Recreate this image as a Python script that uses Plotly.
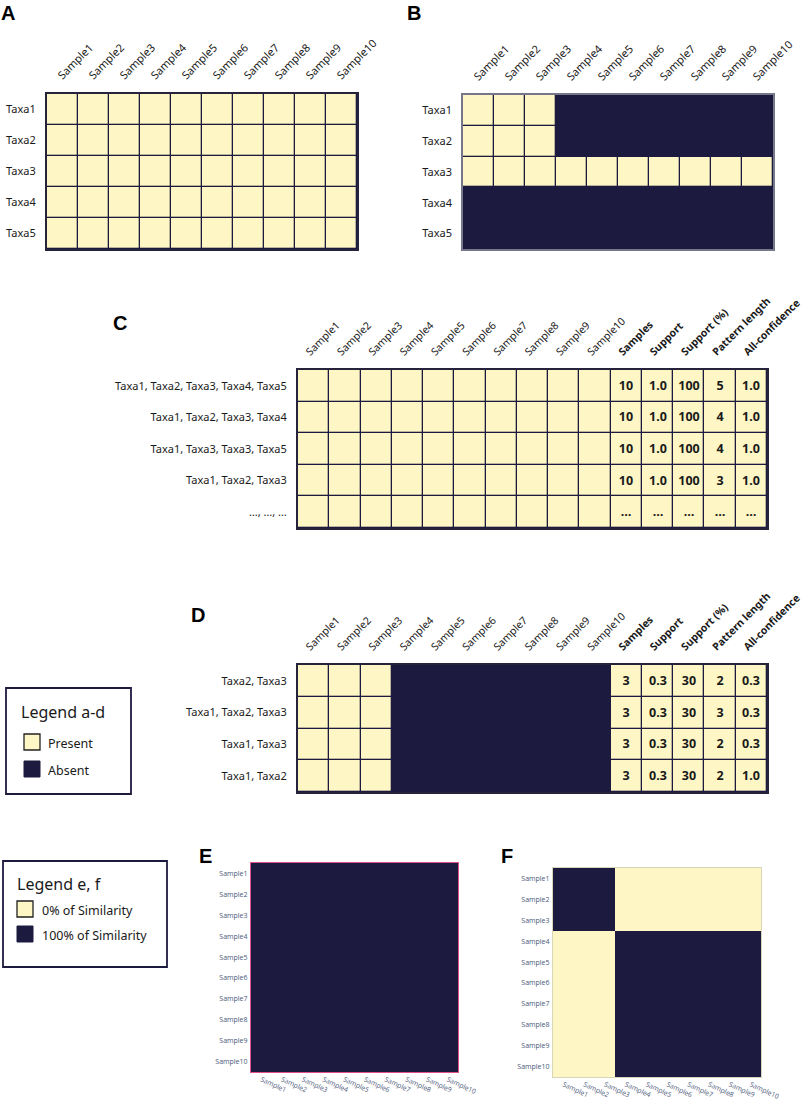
import plotly.graph_objects as go

# ---------------- data ----------------
samples = ["Sample1", "Sample2", "Sample3", "Sample4", "Sample5",
           "Sample6", "Sample7", "Sample8", "Sample9", "Sample10"]
taxa = ["Taxa1", "Taxa2", "Taxa3", "Taxa4", "Taxa5"]
stat_headers = ["Samples", "Support", "Support (%)", "Pattern length", "All-confidence"]

# 1 = present, 0 = absent
presence_a = [
    [1, 1, 1, 1, 1, 1, 1, 1, 1, 1],
    [1, 1, 1, 1, 1, 1, 1, 1, 1, 1],
    [1, 1, 1, 1, 1, 1, 1, 1, 1, 1],
    [1, 1, 1, 1, 1, 1, 1, 1, 1, 1],
    [1, 1, 1, 1, 1, 1, 1, 1, 1, 1],
]
presence_b = [
    [1, 1, 1, 0, 0, 0, 0, 0, 0, 0],
    [1, 1, 1, 0, 0, 0, 0, 0, 0, 0],
    [1, 1, 1, 1, 1, 1, 1, 1, 1, 1],
    [0, 0, 0, 0, 0, 0, 0, 0, 0, 0],
    [0, 0, 0, 0, 0, 0, 0, 0, 0, 0],
]

patterns_c = ["Taxa1, Taxa2, Taxa3, Taxa4, Taxa5", "Taxa1, Taxa2, Taxa3, Taxa4",
              "Taxa1, Taxa3, Taxa3, Taxa5", "Taxa1, Taxa2, Taxa3", "…, …, …"]
presence_c = [
    [1, 1, 1, 1, 1, 1, 1, 1, 1, 1],
    [1, 1, 1, 1, 1, 1, 1, 1, 1, 1],
    [1, 1, 1, 1, 1, 1, 1, 1, 1, 1],
    [1, 1, 1, 1, 1, 1, 1, 1, 1, 1],
    [1, 1, 1, 1, 1, 1, 1, 1, 1, 1],
]
samples_c = ["10", "10", "10", "10", "…"]
support_c = ["1.0", "1.0", "1.0", "1.0", "…"]
support_pct_c = ["100", "100", "100", "100", "…"]
pattern_len_c = ["5", "4", "4", "3", "…"]
all_conf_c = ["1.0", "1.0", "1.0", "1.0", "…"]

patterns_d = ["Taxa2, Taxa3", "Taxa1, Taxa2, Taxa3", "Taxa1, Taxa3", "Taxa1, Taxa2"]
presence_d = [
    [1, 1, 1, 0, 0, 0, 0, 0, 0, 0],
    [1, 1, 1, 0, 0, 0, 0, 0, 0, 0],
    [1, 1, 1, 0, 0, 0, 0, 0, 0, 0],
    [1, 1, 1, 0, 0, 0, 0, 0, 0, 0],
]
samples_d = ["3", "3", "3", "3"]
support_d = ["0.3", "0.3", "0.3", "0.3"]
support_pct_d = ["30", "30", "30", "30"]
pattern_len_d = ["2", "3", "2", "2"]
all_conf_d = ["0.3", "0.3", "0.3", "1.0"]

# similarity (1 = 100 %, 0 = 0 %)
similarity_e = [
    [1, 1, 1, 1, 1, 1, 1, 1, 1, 1],
    [1, 1, 1, 1, 1, 1, 1, 1, 1, 1],
    [1, 1, 1, 1, 1, 1, 1, 1, 1, 1],
    [1, 1, 1, 1, 1, 1, 1, 1, 1, 1],
    [1, 1, 1, 1, 1, 1, 1, 1, 1, 1],
    [1, 1, 1, 1, 1, 1, 1, 1, 1, 1],
    [1, 1, 1, 1, 1, 1, 1, 1, 1, 1],
    [1, 1, 1, 1, 1, 1, 1, 1, 1, 1],
    [1, 1, 1, 1, 1, 1, 1, 1, 1, 1],
    [1, 1, 1, 1, 1, 1, 1, 1, 1, 1],
]
similarity_f = [
    [1, 1, 1, 0, 0, 0, 0, 0, 0, 0],
    [1, 1, 1, 0, 0, 0, 0, 0, 0, 0],
    [1, 1, 1, 0, 0, 0, 0, 0, 0, 0],
    [0, 0, 0, 1, 1, 1, 1, 1, 1, 1],
    [0, 0, 0, 1, 1, 1, 1, 1, 1, 1],
    [0, 0, 0, 1, 1, 1, 1, 1, 1, 1],
    [0, 0, 0, 1, 1, 1, 1, 1, 1, 1],
    [0, 0, 0, 1, 1, 1, 1, 1, 1, 1],
    [0, 0, 0, 1, 1, 1, 1, 1, 1, 1],
    [0, 0, 0, 1, 1, 1, 1, 1, 1, 1],
]

# ---------------- style ----------------
W, H = 809, 1100
YELLOW = "#fef6c4"
NAVY = "#1d1a3f"
TXT = "#1a1a1a"
FONT = "Noto Sans"
presence_scale = [[0, NAVY], [1, YELLOW]]
similarity_scale = [[0, YELLOW], [1, NAVY]]


def fx(p):
    return p / W


def fy(p):
    return 1 - p / H


def table_rows(presence, stats):
    z, text = [], []
    for i, row in enumerate(presence):
        z.append(list(row) + [1] * len(stats))
        text.append([""] * len(row) + [s[i] for s in stats])
    return z, text


fig = go.Figure()

# A
fig.add_trace(go.Heatmap(z=presence_a, x=samples, y=taxa, colorscale=presence_scale,
                         zmin=0, zmax=1, showscale=False, xgap=1.3, ygap=1.3,
                         xaxis="x", yaxis="y", hoverinfo="skip"))
# B
fig.add_trace(go.Heatmap(z=presence_b, x=samples, y=taxa, colorscale=presence_scale,
                         zmin=0, zmax=1, showscale=False, xgap=1.3, ygap=1.3,
                         xaxis="x2", yaxis="y2", hoverinfo="skip"))
# C
zc, tc = table_rows(presence_c, [samples_c, support_c, support_pct_c, pattern_len_c, all_conf_c])
fig.add_trace(go.Heatmap(z=zc, x=samples + stat_headers, y=patterns_c, text=tc,
                         texttemplate="%{text}",
                         textfont=dict(family=FONT, size=12.5, color=TXT, weight="bold"),
                         colorscale=presence_scale, zmin=0, zmax=1, showscale=False,
                         xgap=1.3, ygap=1.3, xaxis="x3", yaxis="y3", hoverinfo="skip"))
# D
zd, td = table_rows(presence_d, [samples_d, support_d, support_pct_d, pattern_len_d, all_conf_d])
fig.add_trace(go.Heatmap(z=zd, x=samples + stat_headers, y=patterns_d, text=td,
                         texttemplate="%{text}",
                         textfont=dict(family=FONT, size=12.5, color=TXT, weight="bold"),
                         colorscale=presence_scale, zmin=0, zmax=1, showscale=False,
                         xgap=1.3, ygap=1.3, xaxis="x4", yaxis="y4", hoverinfo="skip"))
# E
fig.add_trace(go.Heatmap(z=similarity_e, x=samples, y=samples, colorscale=similarity_scale,
                         zmin=0, zmax=1, showscale=False, xaxis="x5", yaxis="y5",
                         hoverinfo="skip"))
# F
fig.add_trace(go.Heatmap(z=similarity_f, x=samples, y=samples, colorscale=similarity_scale,
                         zmin=0, zmax=1, showscale=False, xaxis="x6", yaxis="y6",
                         hoverinfo="skip"))

tick_font = dict(family=FONT, size=11, color=TXT)
head_font = dict(family=FONT, size=10.5, color=TXT)
small_font = dict(family="Open Sans", size=7, color="#4a5878")
small_font_x = dict(family="Open Sans", size=6.8, color="#4a5878")


def top_x(dom, anchor, color, width, font, shift, tickvals=None, ticktext=None):
    d = dict(domain=[fx(dom[0]), fx(dom[1])], anchor=anchor, side="top", tickangle=-45,
             showgrid=False, zeroline=False, ticks="", tickfont=font,
             showline=True, mirror=True, linecolor=color, linewidth=width,
             fixedrange=True, ticklabelstandoff=6, ticklabelshift=shift,
             automargin=False)
    if tickvals is not None:
        d["tickvals"] = tickvals
        d["ticktext"] = ticktext
    return d


def left_y(dom, anchor, color, width):
    return dict(domain=[fy(dom[1]), fy(dom[0])], anchor=anchor, autorange="reversed",
                showgrid=False, zeroline=False, ticks="", tickfont=tick_font,
                showline=True, mirror=True, linecolor=color, linewidth=width,
                fixedrange=True, ticklabelstandoff=7, automargin=False)


def sim_x(dom, anchor, color):
    return dict(domain=[fx(dom[0]), fx(dom[1])], anchor=anchor, tickangle=25,
                showgrid=False, zeroline=False, ticks="", tickfont=small_font_x,
                showline=True, mirror=True, linecolor=color, linewidth=1.2,
                fixedrange=True, ticklabelstandoff=0, automargin=False)


def sim_y(dom, anchor, color):
    return dict(domain=[fy(dom[1]), fy(dom[0])], anchor=anchor, autorange="reversed",
                showgrid=False, zeroline=False, ticks="", tickfont=small_font,
                showline=True, mirror=True, linecolor=color, linewidth=1.2,
                fixedrange=True, ticklabelstandoff=1, automargin=False)


table_ticktext = samples + ["<b>" + h + "</b>" for h in stat_headers]
table_tickvals = samples + stat_headers

BORDER = "#26243a"
fig.update_layout(
    width=W, height=H, autosize=False,
    margin=dict(l=0, r=0, t=0, b=0, autoexpand=False),
    paper_bgcolor="white", plot_bgcolor=NAVY,
    font=dict(family=FONT, color=TXT),
    xaxis=top_x((47, 357), "y", BORDER, 2, tick_font, -4),
    yaxis=left_y((94, 249), "x", BORDER, 2),
    xaxis2=top_x((463, 773), "y2", "#77778a", 1.5, tick_font, -4),
    yaxis2=left_y((95, 249), "x2", "#77778a", 1.5),
    xaxis3=top_x((298, 767), "y3", BORDER, 2, head_font, -7, table_tickvals, table_ticktext),
    yaxis3=left_y((370, 528), "x3", BORDER, 2),
    xaxis4=top_x((298, 767), "y4", BORDER, 2, head_font, -7, table_tickvals, table_ticktext),
    yaxis4=left_y((665, 792), "x4", BORDER, 2),
    xaxis5=sim_x((251, 458), "y5", "#e0508a"),
    yaxis5=sim_y((863, 1072), "x5", "#e0508a"),
    xaxis6=sim_x((553, 761), "y6", "#d8d6b8"),
    yaxis6=sim_y((868, 1077), "x6", "#d8d6b8"),
    showlegend=False,
)

# panel letters
letters = [("A", 0, 1), ("B", 406, 1), ("C", 112, 311), ("D", 190, 603),
           ("E", 198, 844), ("F", 500, 844)]
for t, x, y in letters:
    fig.add_annotation(text="<b>" + t + "</b>", x=fx(x), y=fy(y), xref="paper", yref="paper",
                       xanchor="left", yanchor="top", showarrow=False, borderpad=0,
                       font=dict(family="Liberation Sans", size=20, color="black"))

# legend boxes
shapes = []
shapes.append(dict(type="rect", xref="paper", yref="paper", x0=fx(6), x1=fx(131),
                   y0=fy(794), y1=fy(688), line=dict(color=NAVY, width=1.8),
                   fillcolor="white", layer="below"))
shapes.append(dict(type="rect", xref="paper", yref="paper", x0=fx(24), x1=fx(40),
                   y0=fy(750), y1=fy(734), line=dict(color="#222222", width=1.3),
                   fillcolor=YELLOW))
shapes.append(dict(type="rect", xref="paper", yref="paper", x0=fx(24), x1=fx(40),
                   y0=fy(777), y1=fy(761), line=dict(color=NAVY, width=1),
                   fillcolor=NAVY))
shapes.append(dict(type="rect", xref="paper", yref="paper", x0=fx(3), x1=fx(167),
                   y0=fy(967), y1=fy(861), line=dict(color=NAVY, width=1.8),
                   fillcolor="white", layer="below"))
shapes.append(dict(type="rect", xref="paper", yref="paper", x0=fx(17), x1=fx(33),
                   y0=fy(917), y1=fy(901), line=dict(color="#222222", width=1.3),
                   fillcolor=YELLOW))
shapes.append(dict(type="rect", xref="paper", yref="paper", x0=fx(17), x1=fx(33),
                   y0=fy(942), y1=fy(926), line=dict(color=NAVY, width=1),
                   fillcolor=NAVY))
fig.update_layout(shapes=shapes)

legend_texts = [("Legend a-d", 19, 712, 16), ("Present", 46, 743, 12.5),
                ("Absent", 46, 770, 12.5), ("Legend e, f", 15, 884, 16),
                ("0% of Similarity", 40, 910, 12.5), ("100% of Similarity", 40, 935, 12.5)]
for t, x, y, s in legend_texts:
    fig.add_annotation(text=t, x=fx(x), y=fy(y), xref="paper", yref="paper",
                       xanchor="left", yanchor="middle", showarrow=False,
                       font=dict(family=FONT, size=s, color=TXT))

fig.write_html("out.html", config={"displayModeBar": False},
               post_script="document.body.style.margin='0';")
